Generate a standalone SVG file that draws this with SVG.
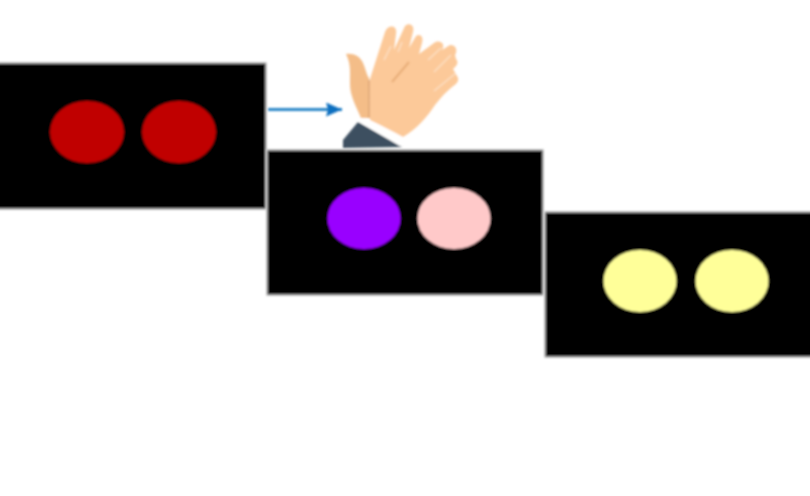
<svg xmlns="http://www.w3.org/2000/svg" width="810" height="496" viewBox="0 0 810 496">
<defs>
<marker id="ah" markerUnits="userSpaceOnUse" markerWidth="18" markerHeight="16" refX="16" refY="7" orient="auto"><path d="M0 0L16 7L0 14L2 7Z" fill="#0f70c0"/></marker>
<filter id="b" filterUnits="userSpaceOnUse" x="-10" y="0" width="830" height="496"><feGaussianBlur stdDeviation="0.8"/></filter>
</defs>
<style>
.panel{fill:#000;stroke:#b8b8b8;stroke-width:1.5}
.skin{fill:#fcc999}
.dark{fill:#f4bd88}
</style>
<rect width="810" height="496" fill="#fff"/>
<g id="connectors" filter="url(#b)"><path d="M268 109.500H342" fill="none" stroke="#2a86c8" stroke-width="3" marker-end="url(#ah)"/></g>
<g id="hand" filter="url(#b)">
<path d="M343 148L343 140L358 122L402 147Z" fill="#3d4f60"/>
<path d="M358 121L363 118L404 136L400 146Z" fill="#fff"/>
<path class="dark" d="M346 54C353 53 360 56 363 63C366 70 367 76 369 78L370 118L361 118C356 106 350 96 350 84C350 72 351 64 346 54Z"/>
<path class="skin" d="M370 120L369 82L385 32C388 24 398 25 396 34L394 50L405 26C409 22 415 25 413 32L409 48L416 36C420 33 424 37 422 43L419 54L434 43C440 39 446 44 442 50L450 45C456 45 458 50 455 55L456 59C459 62 457 66 453 69L457 76C460 80 457 84 452 87C447 91 441 97 435 105C427 117 417 129 403 137C392 131 381 125 370 120Z"/>
<path d="M392 82L409 62" fill="none" stroke="#e8ad78" stroke-width="2"/>
<path d="M384 60L391 46M398 52L402 42M428 60L441 48M434 72L451 55M434 91L456 73" fill="none" stroke="#fdeee0" stroke-width="1.500" opacity=".6"/>
<path d="M369 80L369 118" stroke="#dca474" stroke-width="1.500" fill="none"/>
</g>
<g id="panel-1" filter="url(#b)">
<rect class="panel" x="-4" y="63" width="270" height="146"/>
<ellipse cx="87" cy="132" rx="37" ry="31" fill="#c00000"/>
<ellipse cx="179" cy="132" rx="37" ry="31" fill="#c00000"/>
</g>
<g id="panel-2" filter="url(#b)">
<rect class="panel" x="267" y="150" width="276" height="145"/>
<ellipse cx="364" cy="218.500" rx="36.500" ry="30.500" fill="#9900ff"/>
<ellipse cx="454" cy="218.500" rx="36.500" ry="30.500" fill="#ffc9c9"/>
</g>
<g id="panel-3" filter="url(#b)">
<rect class="panel" x="545" y="212" width="270" height="145"/>
<ellipse cx="640" cy="281" rx="36.500" ry="31" fill="#ffff99"/>
<ellipse cx="732" cy="281" rx="36.500" ry="31" fill="#ffff99"/>
</g>
</svg>
